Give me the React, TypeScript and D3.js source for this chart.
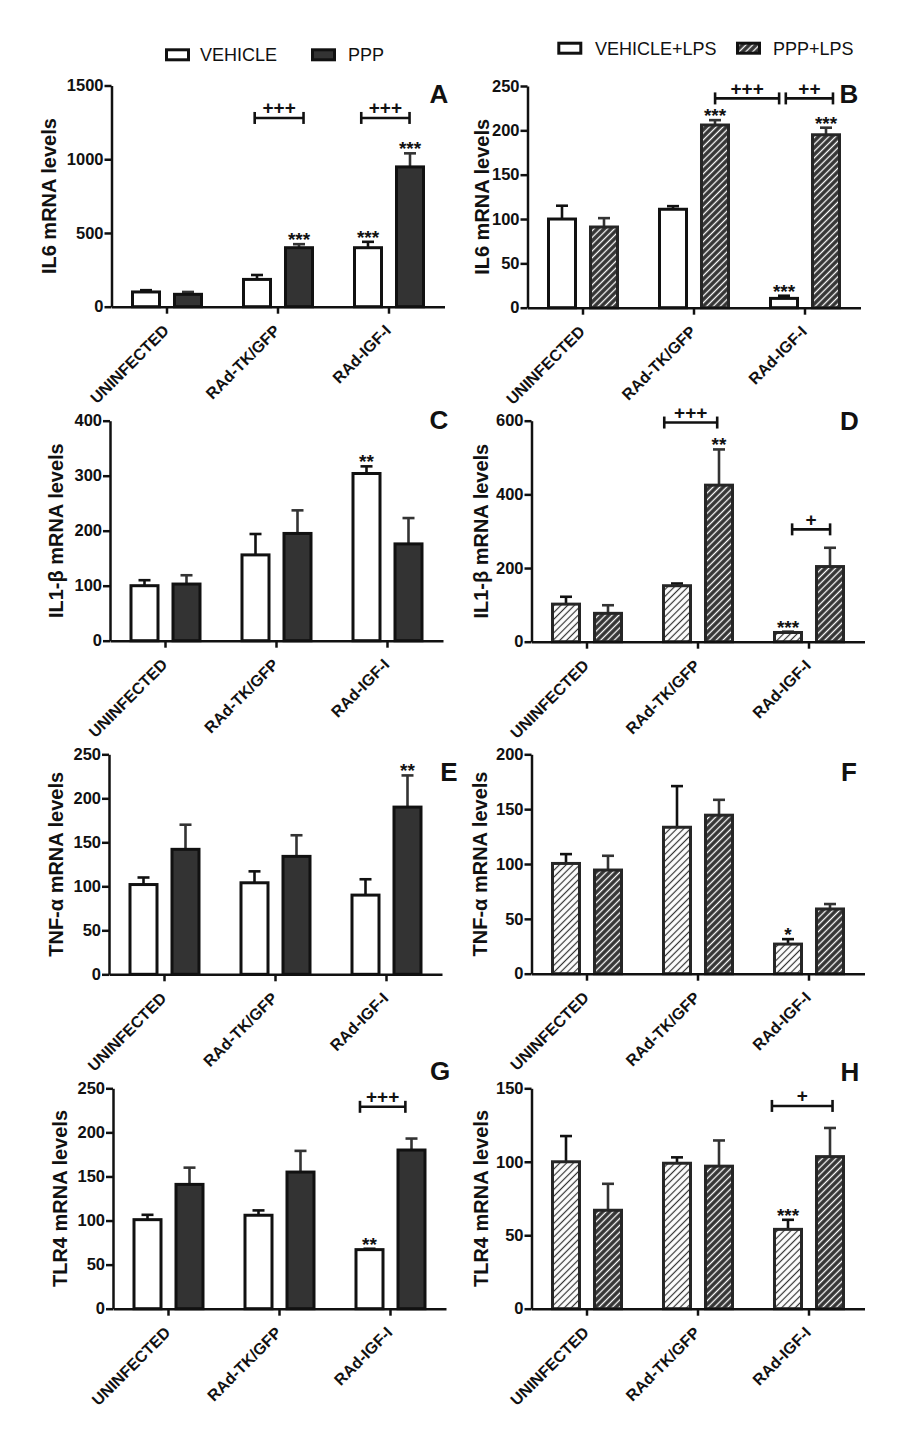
import React, { useEffect, useRef } from "react";
import * as d3 from "d3";

// categories and legend labels
const groups = ["UNINFECTED", "RAd-TK/GFP", "RAd-IGF-I"];
const legendLeft = ["VEHICLE", "PPP"];
const legendRight = ["VEHICLE+LPS", "PPP+LPS"];

// A - IL6, no LPS
const aVeh = [100, 185, 400];
const aVehErr = [12, 30, 40];
const aPpp = [84, 400, 948];
const aPppErr = [16, 24, 92];
const aTicks = [0, 500, 1000, 1500];

// B - IL6, LPS
const bVeh = [100, 111, 10.5];
const bVehErr = [15, 3.5, 3];
const bPpp = [91, 206, 195];
const bPppErr = [10, 5.5, 8];
const bTicks = [0, 50, 100, 150, 200, 250];

// C - IL1-b, no LPS
const cVeh = [100, 156, 304];
const cVehErr = [10, 38, 13];
const cPpp = [103, 195, 176];
const cPppErr = [16, 42, 47];
const cTicks = [0, 100, 200, 300, 400];

// D - IL1-b, LPS
const dVeh = [102, 152, 25];
const dVehErr = [20, 6, 2];
const dPpp = [77, 425, 204];
const dPppErr = [22, 97, 51];
const dTicks = [0, 200, 400, 600];

// E - TNF-a, no LPS
const eVeh = [102, 104, 90];
const eVehErr = [8, 13, 18];
const ePpp = [142, 134, 190];
const ePppErr = [28, 24, 36];
const eTicks = [0, 50, 100, 150, 200, 250];

// F - TNF-a, LPS
const fVeh = [100.5, 133.5, 27];
const fVehErr = [8.5, 37.5, 4.5];
const fPpp = [94.5, 144.5, 59];
const fPppErr = [13, 14, 4.5];
const fTicks = [0, 50, 100, 150, 200];

// G - TLR4, no LPS
const gVeh = [101, 106, 67];
const gVehErr = [5.5, 5.5, 1];
const gPpp = [141, 155, 180];
const gPppErr = [19, 24, 13];
const gTicks = [0, 50, 100, 150, 200, 250];

// H - TLR4, LPS
const hVeh = [100, 99, 54];
const hVehErr = [17.5, 4, 6.5];
const hPpp = [67, 97, 103.5];
const hPppErr = [18, 17.5, 19.5];
const hTicks = [0, 50, 100, 150];

interface Bracket {
  x1: number; // in category units (0..3)
  x2: number;
  level: number;
  label: string;
}

interface Panel {
  letter: string;
  title: string;
  ticks: number[];
  veh: number[];
  vehErr: number[];
  ppp: number[];
  pppErr: number[];
  vehStars: string[];
  pppStars: string[];
  brackets: Bracket[];
  vehFill: "white" | "light";
  pppFill: "dark" | "darkHatch";
}

const panels: Panel[] = [
  {
    letter: "A", title: "IL6 mRNA levels", ticks: aTicks,
    veh: aVeh, vehErr: aVehErr, ppp: aPpp, pppErr: aPppErr,
    vehStars: ["", "", "***"], pppStars: ["", "***", "***"],
    brackets: [
      { x1: 1.29, x2: 1.73, level: 1280, label: "+++" },
      { x1: 2.25, x2: 2.685, level: 1280, label: "+++" },
    ],
    vehFill: "white", pppFill: "dark",
  },
  {
    letter: "B", title: "IL6 mRNA levels", ticks: bTicks,
    veh: bVeh, vehErr: bVehErr, ppp: bPpp, pppErr: bPppErr,
    vehStars: ["", "", "***"], pppStars: ["", "***", "***"],
    brackets: [
      { x1: 1.69, x2: 2.267, level: 236, label: "+++" },
      { x1: 2.327, x2: 2.752, level: 236, label: "++" },
    ],
    vehFill: "white", pppFill: "darkHatch",
  },
  {
    letter: "C", title: "IL1-\u03b2 mRNA levels", ticks: cTicks,
    veh: cVeh, vehErr: cVehErr, ppp: cPpp, pppErr: cPppErr,
    vehStars: ["", "", "**"], pppStars: ["", "", ""],
    brackets: [],
    vehFill: "white", pppFill: "dark",
  },
  {
    letter: "D", title: "IL1-\u03b2 mRNA levels", ticks: dTicks,
    veh: dVeh, vehErr: dVehErr, ppp: dPpp, pppErr: dPppErr,
    vehStars: ["", "", "***"], pppStars: ["", "**", ""],
    brackets: [
      { x1: 1.196, x2: 1.673, level: 595, label: "+++" },
      { x1: 2.348, x2: 2.69, level: 305, label: "+" },
    ],
    vehFill: "light", pppFill: "darkHatch",
  },
  {
    letter: "E", title: "TNF-\u03b1 mRNA levels", ticks: eTicks,
    veh: eVeh, vehErr: eVehErr, ppp: ePpp, pppErr: ePppErr,
    vehStars: ["", "", ""], pppStars: ["", "", "**"],
    brackets: [],
    vehFill: "white", pppFill: "dark",
  },
  {
    letter: "F", title: "TNF-\u03b1 mRNA levels", ticks: fTicks,
    veh: fVeh, vehErr: fVehErr, ppp: fPpp, pppErr: fPppErr,
    vehStars: ["", "", "*"], pppStars: ["", "", ""],
    brackets: [],
    vehFill: "light", pppFill: "darkHatch",
  },
  {
    letter: "G", title: "TLR4 mRNA levels", ticks: gTicks,
    veh: gVeh, vehErr: gVehErr, ppp: gPpp, pppErr: gPppErr,
    vehStars: ["", "", "**"], pppStars: ["", "", ""],
    brackets: [{ x1: 2.225, x2: 2.634, level: 229, label: "+++" }],
    vehFill: "white", pppFill: "dark",
  },
  {
    letter: "H", title: "TLR4 mRNA levels", ticks: hTicks,
    veh: hVeh, vehErr: hVehErr, ppp: hPpp, pppErr: hPppErr,
    vehStars: ["", "", "***"], pppStars: ["", "", ""],
    brackets: [{ x1: 2.166, x2: 2.712, level: 138, label: "+" }],
    vehFill: "light", pppFill: "darkHatch",
  },
];

// where each panel sits on the page
const layout: Record<string, { axisX: number; top: number; zero: number; titleX: number; lx: number; ly: number }> = {
  A: { axisX: 111.5, top: 85.5, zero: 306.7, titleX: 49, lx: 439, ly: 102.7 },
  B: { axisX: 527.5, top: 86, zero: 307.7, titleX: 482, lx: 849, ly: 102.7 },
  C: { axisX: 110, top: 420.7, zero: 640.7, titleX: 56, lx: 439, ly: 429 },
  D: { axisX: 531.5, top: 420.7, zero: 641.7, titleX: 481, lx: 849.5, ly: 430 },
  E: { axisX: 109, top: 754.3, zero: 974.3, titleX: 56, lx: 449, ly: 780.7 },
  F: { axisX: 531.5, top: 754.3, zero: 973.7, titleX: 480, lx: 849, ly: 780.7 },
  G: { axisX: 113, top: 1088.3, zero: 1308.7, titleX: 60, lx: 440, ly: 1080 },
  H: { axisX: 531.5, top: 1088.3, zero: 1308.7, titleX: 481, lx: 850, ly: 1080.7 },
};

const WIDTH = 899;
const HEIGHT = 1443;
const PLOT_W = 333;
const FONT = "'Liberation Sans', Arial, Helvetica, sans-serif";
const DARK = "#333333";
const INK = "#111111";
const HATCH = 4.8;

const fillFor = (kind: string) =>
  kind === "white" ? "#ffffff" : kind === "dark" ? DARK : kind === "light" ? "url(#hatchLight)" : "url(#hatchDark)";

const App: React.FC = () => {
  const svgRef = useRef<SVGSVGElement>(null);

  useEffect(() => {
    if (!svgRef.current) return;
    const svg = d3.select(svgRef.current);
    svg.selectAll("*").remove();

    const defs = svg.append("defs");
    const hatch = (id: string, bg: string, fg: string, w: number) => {
      const p = defs.append("pattern")
        .attr("id", id)
        .attr("patternUnits", "userSpaceOnUse")
        .attr("width", HATCH)
        .attr("height", HATCH)
        .attr("patternTransform", "rotate(45)");
      p.append("rect").attr("width", HATCH).attr("height", HATCH).attr("fill", bg);
      p.append("line")
        .attr("x1", HATCH / 2).attr("y1", 0).attr("x2", HATCH / 2).attr("y2", HATCH)
        .attr("stroke", fg).attr("stroke-width", w);
    };
    hatch("hatchDark", DARK, "#ffffff", 1.3);
    hatch("hatchLight", "#ffffff", DARK, 1.2);

    svg.append("rect").attr("width", WIDTH).attr("height", HEIGHT).attr("fill", "#fff");

    // legends
    const legend = (labels: string[], fills: string[], boxX: number[], textX: number[], boxY: number, baseY: number) => {
      labels.forEach((lab, i) => {
        svg.append("rect")
          .attr("x", boxX[i]).attr("y", boxY)
          .attr("width", 22).attr("height", 10)
          .attr("fill", fills[i])
          .attr("stroke", INK).attr("stroke-width", 3);
        svg.append("text")
          .attr("x", textX[i]).attr("y", baseY)
          .attr("font-family", FONT).attr("font-size", 18)
          .attr("fill", INK)
          .text(lab);
      });
    };
    legend(legendLeft, ["#fff", DARK], [166.5, 312.5], [200, 348], 49.8, 60.5);
    legend(legendRight, ["#fff", "url(#hatchDark)"], [558.8, 737.5], [595, 773], 43.2, 54.5);

    panels.forEach((p) => {
      const L = layout[p.letter];
      const g = svg.append("g").attr("transform", `translate(${L.axisX},0)`);

      const y = d3.scaleLinear()
        .domain([0, p.ticks[p.ticks.length - 1]])
        .range([L.zero, L.top]);
      const x0 = d3.scaleBand<string>().domain(groups).range([0, PLOT_W]).padding(0);
      const x1 = d3.scaleBand<string>()
        .domain(["veh", "ppp"])
        .range([0, x0.bandwidth()])
        .paddingInner(0.357)
        .paddingOuter(0.5);
      const xc = d3.scaleLinear().domain([0, groups.length]).range([0, PLOT_W]);

      const series = [
        { key: "veh", vals: p.veh, errs: p.vehErr, stars: p.vehStars, fill: p.vehFill },
        { key: "ppp", vals: p.ppp, errs: p.pppErr, stars: p.pppStars, fill: p.pppFill },
      ];

      series.forEach((s) => {
        const errColor = s.fill === "white" || s.fill === "light" ? INK : DARK;
        groups.forEach((grp, i) => {
          const bx = (x0(grp) ?? 0) + (x1(s.key) ?? 0);
          const cx = bx + x1.bandwidth() / 2;
          const v = s.vals[i];
          const top = y(v + s.errs[i]);
          // error bar (upper only)
          g.append("line")
            .attr("x1", cx).attr("x2", cx)
            .attr("y1", y(v)).attr("y2", top)
            .attr("stroke", errColor).attr("stroke-width", 2.6);
          g.append("line")
            .attr("x1", cx - 6).attr("x2", cx + 6)
            .attr("y1", top).attr("y2", top)
            .attr("stroke", errColor).attr("stroke-width", 2.6);
          g.append("rect")
            .attr("x", bx).attr("y", y(v))
            .attr("width", x1.bandwidth())
            .attr("height", y(0) - y(v))
            .attr("fill", fillFor(s.fill))
            .attr("stroke", s.fill === "darkHatch" || s.fill === "light" ? "#262626" : INK)
            .attr("stroke-width", 3);
          if (s.stars[i]) {
            g.append("text")
              .attr("x", cx).attr("y", top + 2)
              .attr("text-anchor", "middle")
              .attr("font-family", FONT).attr("font-size", 19).attr("font-weight", "bold")
              .attr("fill", INK)
              .text(s.stars[i]);
          }
        });
      });

      // y axis
      const yAxis = g.append("g")
        .call(d3.axisLeft(y).tickValues(p.ticks).tickFormat(d3.format("d")).tickSize(7).tickSizeOuter(0).tickPadding(1));
      yAxis.selectAll("path, line").attr("stroke", INK).attr("stroke-width", 2.5);
      yAxis.selectAll("text")
        .attr("font-family", FONT).attr("font-size", 16.5).attr("font-weight", "bold")
        .attr("fill", INK);

      // x axis
      const xAxis = g.append("g")
        .attr("transform", `translate(0,${L.zero})`)
        .call(d3.axisBottom(x0).tickSize(7).tickSizeOuter(0));
      xAxis.selectAll("path, line").attr("stroke", INK).attr("stroke-width", 2.5);
      xAxis.selectAll("text")
        .attr("x", 0).attr("y", 0).attr("dy", null)
        .attr("transform", "translate(3,25) rotate(-45)")
        .attr("text-anchor", "end")
        .attr("font-family", FONT).attr("font-size", 16).attr("font-weight", "bold")
        .attr("fill", INK);

      // significance brackets
      p.brackets.forEach((b) => {
        const by = y(b.level);
        const bx1 = xc(b.x1);
        const bx2 = xc(b.x2);
        const bg = g.append("g").attr("stroke", INK).attr("stroke-width", 2.6);
        bg.append("line").attr("x1", bx1).attr("x2", bx2).attr("y1", by).attr("y2", by);
        bg.append("line").attr("x1", bx1).attr("x2", bx1).attr("y1", by - 6).attr("y2", by + 6);
        bg.append("line").attr("x1", bx2).attr("x2", bx2).attr("y1", by - 6).attr("y2", by + 6);
        g.append("text")
          .attr("x", (bx1 + bx2) / 2).attr("y", by - 3.5)
          .attr("text-anchor", "middle")
          .attr("font-family", FONT).attr("font-size", 19).attr("font-weight", "bold")
          .attr("fill", INK)
          .text(b.label);
      });

      // axis title
      svg.append("text")
        .attr("transform", `translate(${L.titleX},${(L.top + L.zero) / 2}) rotate(-90)`)
        .attr("dy", "0.36em")
        .attr("text-anchor", "middle")
        .attr("font-family", FONT).attr("font-size", 20).attr("font-weight", "bold")
        .attr("fill", INK)
        .text(p.title);

      // panel letter
      svg.append("text")
        .attr("x", L.lx).attr("y", L.ly)
        .attr("text-anchor", "middle")
        .attr("font-family", FONT).attr("font-size", 26).attr("font-weight", "bold")
        .attr("fill", INK)
        .text(p.letter);
    });
  }, []);

  return (
    <svg
      ref={svgRef}
      width={WIDTH}
      height={HEIGHT}
      style={{ position: "absolute", left: 0, top: 0, display: "block" }}
    />
  );
};

export default App;
